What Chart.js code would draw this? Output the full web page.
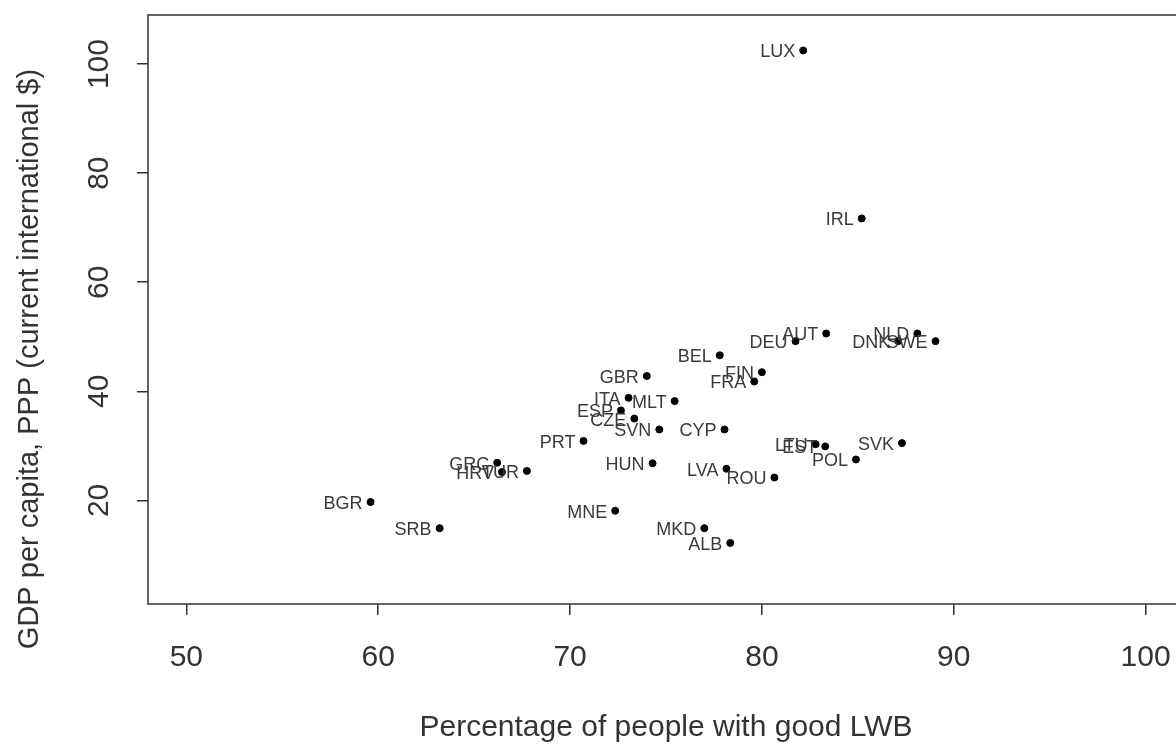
<!DOCTYPE html>
<html>
<head>
<meta charset="utf-8">
<title>GDP vs LWB</title>
<script src="https://cdn.jsdelivr.net/npm/chart.js@4"></script>
<style>
    html, body { margin: 0; padding: 0; background: #fff; }
    #wrap { width: 1176px; height: 744px; overflow: hidden; position: relative; }
    #chart { position: absolute; left: 0; top: 0; }
</style>
</head>
<body>
<div id="wrap"><canvas id="chart" width="1190" height="744"></canvas></div>
<script>
// Country codes and values
const countries = ['LUX', 'IRL', 'AUT', 'DEU', 'NLD', 'DNK', 'SWE', 'BEL', 'FIN', 'FRA',
    'GBR', 'ITA', 'MLT', 'ESP', 'CZE', 'SVN', 'CYP', 'PRT', 'LTU', 'EST',
    'SVK', 'POL', 'HUN', 'LVA', 'ROU', 'GRC', 'HRV', 'TUR', 'BGR', 'SRB',
    'MNE', 'MKD', 'ALB'];
const lwb = [82.15, 85.2, 83.35, 81.75, 88.1, 87.1, 89.05, 77.8, 80.0, 79.6,
    74.0, 73.05, 75.45, 72.65, 73.35, 74.65, 78.05, 70.7, 82.8, 83.3,
    87.3, 84.9, 74.3, 78.15, 80.65, 66.2, 66.45, 67.75, 59.6, 63.2,
    72.35, 77.0, 78.35];
const gdp = [102.5, 71.7, 50.6, 49.2, 50.6, 49.2, 49.2, 46.6, 43.5, 41.8,
    42.8, 38.8, 38.2, 36.5, 35.0, 33.0, 33.0, 30.9, 30.3, 29.9,
    30.5, 27.5, 26.8, 25.8, 24.2, 26.9, 25.2, 25.4, 19.7, 14.9,
    18.1, 14.9, 12.2];

const xTicks = [50, 60, 70, 80, 90, 100];
const yTicks = [20, 40, 60, 80, 100];

const xLabel = 'Percentage of people with good LWB';
const yLabel = 'GDP per capita, PPP (current international $)';

const ink = '#333333';
const fontFamily = '"Liberation Sans", Arial, sans-serif';

// Frame, tick labels, axis titles and point labels, R base-graphics style
const rStylePlugin = {
    id: 'rStyle',
    afterDatasetsDraw(chart) {
        const ctx = chart.ctx;
        const area = chart.chartArea;
        const xs = chart.scales.x;
        const ys = chart.scales.y;
        ctx.save();

        // box around plot region
        ctx.strokeStyle = ink;
        ctx.lineWidth = 1.5;
        ctx.strokeRect(area.left, area.top, area.right - area.left, area.bottom - area.top);

        // point labels to the left of each point
        ctx.fillStyle = '#3a3a3a';
        ctx.font = '18px ' + fontFamily;
        ctx.textAlign = 'right';
        ctx.textBaseline = 'middle';
        const meta = chart.getDatasetMeta(0);
        meta.data.forEach((pt, i) => {
            ctx.fillText(countries[i], pt.x - 8, pt.y + 2);
        });

        // tick labels
        ctx.fillStyle = ink;
        ctx.font = '30px ' + fontFamily;
        ctx.textAlign = 'center';
        ctx.textBaseline = 'middle';
        xTicks.forEach(v => {
            ctx.fillText(String(v), xs.getPixelForValue(v), area.bottom + 54);
        });
        yTicks.forEach(v => {
            ctx.save();
            ctx.translate(area.left - 48, ys.getPixelForValue(v));
            ctx.rotate(-Math.PI / 2);
            ctx.fillText(String(v), 0, 0);
            ctx.restore();
        });

        // axis titles
        ctx.fillText(xLabel, (area.left + area.right) / 2, 728);
        ctx.font = '29px ' + fontFamily;
        ctx.save();
        ctx.translate(30, 359);
        ctx.rotate(-Math.PI / 2);
        ctx.fillText(yLabel, 0, 0);
        ctx.restore();

        ctx.restore();
    }
};

const ctx = document.getElementById('chart');
new Chart(ctx.getContext('2d'), {
    type: 'scatter',
    data: {
        datasets: [{
            data: lwb.map((x, i) => ({ x: x, y: gdp[i] })),
            backgroundColor: '#000',
            borderColor: '#000',
            pointRadius: 3.5,
            pointHoverRadius: 3.5
        }]
    },
    options: {
        responsive: false,
        animation: false,
        events: [],
        layout: { padding: { top: 15, right: 6, left: 0, bottom: 0 } },
        plugins: {
            legend: { display: false },
            tooltip: { enabled: false }
        },
        scales: {
            x: {
                type: 'linear',
                min: 48,
                max: 102,
                afterBuildTicks: axis => { axis.ticks = xTicks.map(v => ({ value: v })); },
                afterFit: axis => { axis.height = 140; },
                ticks: { display: false },
                border: { display: false },
                grid: { drawOnChartArea: false, drawTicks: true, tickLength: 11, color: ink, lineWidth: 1.5 }
            },
            y: {
                type: 'linear',
                min: 1,
                max: 109,
                afterBuildTicks: axis => { axis.ticks = yTicks.map(v => ({ value: v })); },
                afterFit: axis => { axis.width = 148; },
                ticks: { display: false },
                border: { display: false },
                grid: { drawOnChartArea: false, drawTicks: true, tickLength: 11, color: ink, lineWidth: 1.5 }
            }
        }
    },
    plugins: [rStylePlugin]
});
</script>
</body>
</html>
